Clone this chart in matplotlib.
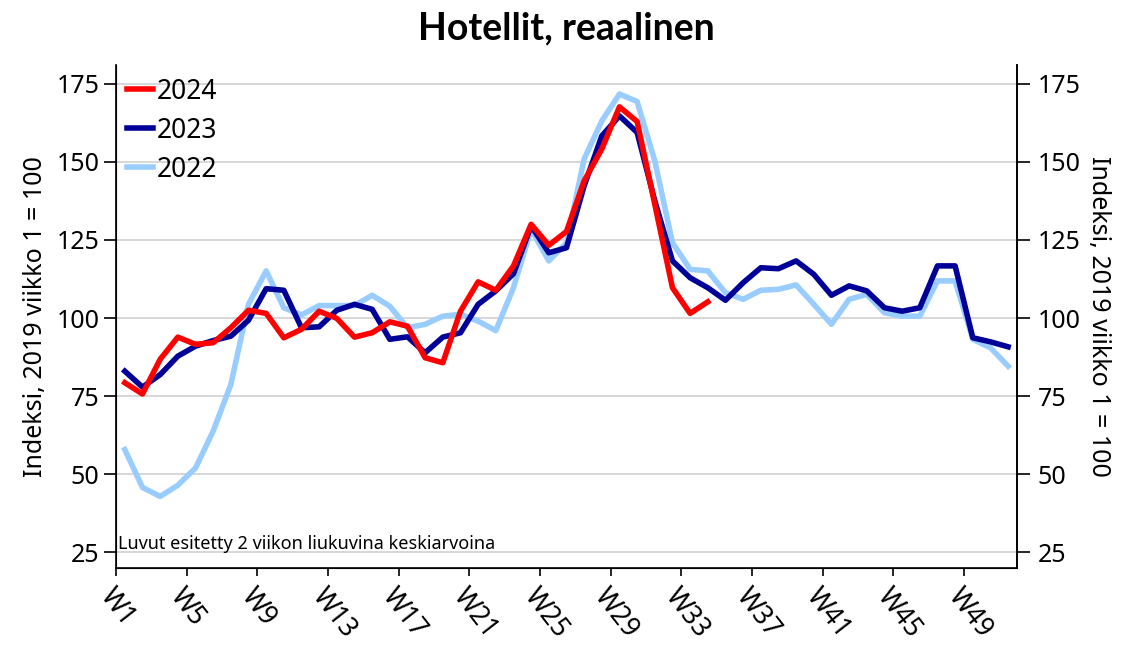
import matplotlib
matplotlib.use("Agg")
import matplotlib.pyplot as plt
import numpy as np

plt.rcParams['font.family'] = ['Noto Sans', 'DejaVu Sans']

weeks = [f"W{i}" for i in range(1, 52)]

y2024 = [79.3, 75.7, 86.8, 93.9, 91.6, 92.1, 96.9, 102.5, 101.5, 93.7,
         96.4, 102.2, 99.9, 93.9, 95.3, 98.8, 97.4, 87.3, 85.7, 102.2,
         111.6, 108.9, 116.7, 130.0, 123.3, 127.7, 143.9, 154.1, 167.6, 162.9,
         136.4, 109.7, 101.5, 105.2]

y2023 = [83.0, 77.9, 81.9, 87.8, 91.0, 92.8, 94.2, 99.3, 109.4, 108.9,
         96.9, 97.2, 102.5, 104.4, 102.8, 93.2, 94.0, 88.9, 93.9, 95.3,
         104.4, 108.7, 114.2, 129.5, 120.9, 122.5, 142.3, 158.3, 164.7, 159.4,
         137.5, 118.3, 112.9, 109.7, 105.7, 111.3, 116.1, 115.8, 118.3, 114.0,
         107.3, 110.3, 108.7, 103.3, 102.2, 103.3, 116.7, 116.7, 93.7, 92.4,
         90.8]

y2022 = [57.9, 45.8, 42.9, 46.5, 52.0, 63.8, 78.7, 104.4, 115.1, 103.3,
         101.0, 104.0, 104.0, 104.0, 107.3, 103.8, 96.9, 98.0, 100.6, 101.2,
         99.0, 96.0, 109.7, 128.4, 118.3, 124.1, 150.9, 163.1, 171.7, 169.3,
         150.3, 124.1, 115.6, 115.1, 108.1, 106.0, 108.9, 109.2, 110.6, 104.4,
         98.0, 106.0, 107.6, 101.7, 100.6, 100.6, 111.9, 111.9, 93.2, 90.5,
         84.6]

yticks = [25, 50, 75, 100, 125, 150, 175]
ylabel = "Indeksi, 2019 viikko 1 = 100"
title = "Hotellit, reaalinen"
note = "Luvut esitetty 2 viikon liukuvina keskiarvoina"

fig = plt.figure(figsize=(11.36, 6.46), dpi=100)
ax = fig.add_axes([0.1021, 0.1207, 0.7931, 0.7787])

n = len(weeks)

lw = 4.0
ax.plot(range(len(y2022)), y2022, color='#99ccff', lw=lw, label='2022', zorder=3)
ax.plot(range(len(y2023)), y2023, color='#000099', lw=lw, label='2023', zorder=4)
ax.plot(range(len(y2024)), y2024, color='#ff0000', lw=lw, label='2024', zorder=5)

ax.set_xlim(-0.5, n - 0.5)
ax.set_ylim(20, 181)
ax.set_yticks(yticks)
ax.grid(axis='y', color='#d4d4d4', lw=1.3)
ax.set_axisbelow(True)

tick_pos = np.arange(0, n, 4)
ax.set_xticks(tick_pos - 0.5)
ax.set_xticklabels([weeks[i] for i in tick_pos], rotation=-52, ha='left', va='top',
                   rotation_mode='anchor', fontsize=19)
ax.tick_params(axis='x', length=6, width=1.2, pad=5)
ax.tick_params(axis='y', length=9, width=1.2, labelsize=18, pad=3)

ax.spines['top'].set_visible(False)
for s in ['left', 'right', 'bottom']:
    ax.spines[s].set_linewidth(1.2)

ax2 = ax.twinx()
ax2.set_ylim(ax.get_ylim())
ax2.set_yticks(yticks)
ax2.tick_params(axis='y', length=9, width=1.2, labelsize=18, pad=6)
ax2.spines['top'].set_visible(False)
ax2.spines['right'].set_linewidth(1.2)

ax.set_ylabel(ylabel, fontsize=18, labelpad=6)
ax2.set_ylabel(ylabel, fontsize=18, rotation=-90, labelpad=22)

handles, labels = ax.get_legend_handles_labels()
order = [2, 1, 0]
leg = ax.legend([handles[i] for i in order], [labels[i] for i in order],
                loc='upper left', frameon=False, fontsize=19, handlelength=0.95,
                handletextpad=0.15, labelspacing=0.42, borderaxespad=0.0,
                bbox_to_anchor=(0.001, 0.996))

ax.text(0.002, 0.03, note, transform=ax.transAxes, fontsize=13, ha='left', va='bottom',
        stretch='condensed')

fig.suptitle(title, fontsize=27, fontweight='bold', x=0.499, y=0.982, va='top',
             family=['Lato', 'Open Sans', 'DejaVu Sans'])

fig.savefig('out.png', dpi=100)
